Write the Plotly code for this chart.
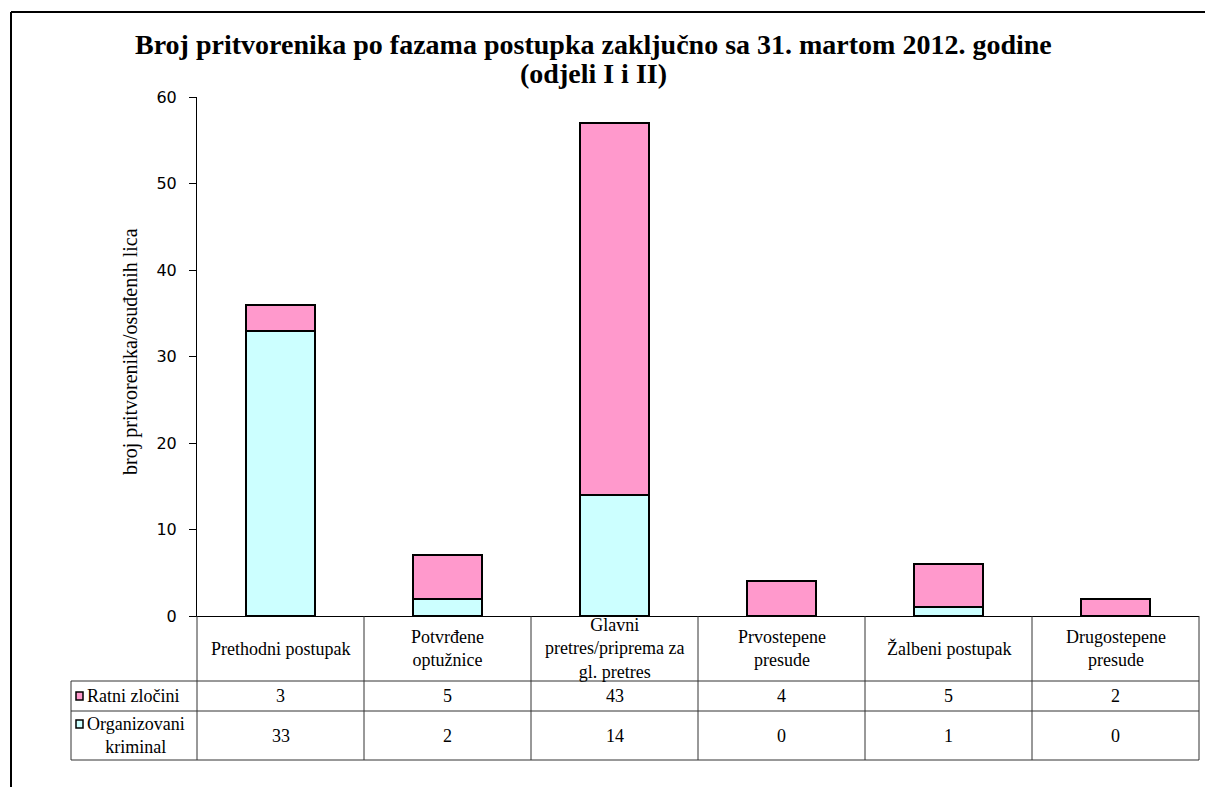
import plotly.graph_objects as go

categories = ["Prethodni postupak", "Potvrđene<br>optužnice", "Glavni<br>pretres/priprema za<br>gl. pretres",
              "Prvostepene<br>presude", "Žalbeni postupak", "Drugostepene<br>presude"]
series_names = ["Ratni zločini", "Organizovani<br>kriminal"]
ratni = [3, 5, 43, 4, 5, 2]
organizovani = [33, 2, 14, 0, 1, 0]
y_ticks = [0, 10, 20, 30, 40, 50, 60]
title_lines = ["Broj pritvorenika po fazama postupka zaključno sa 31. martom 2012. godine", "(odjeli I i II)"]
y_title = "broj pritvorenika/osuđenih lica"

PINK = "#FF99CC"
CYAN = "#CCFFFF"
W, H = 1205, 787
L, R, T, B = 197, 6, 97, 171
PW, PH = W - L - R, H - T - B

def px_x(p):
    return (p - L) / PW

def px_y(p):
    return (H - B - p) / PH

x_idx = list(range(len(categories)))
fig = go.Figure()
fig.add_trace(go.Bar(x=x_idx, y=organizovani, name="Organizovani kriminal",
                     marker=dict(color=CYAN, line=dict(color="black", width=2))))
fig.add_trace(go.Bar(x=x_idx, y=ratni, name="Ratni zločini",
                     marker=dict(color=PINK, line=dict(color="black", width=2))))

serif = "Liberation Serif"
FS = 18
shapes = []
annotations = []
n = len(categories)
line_c = "#333333"
y_top, y_r1, y_r2, y_bot = 616, 681, 711, 760
x_left = 71
for i in range(n + 1):
    shapes.append(dict(type="line", xref="paper", yref="paper", x0=i / n, x1=i / n,
                       y0=px_y(y_top), y1=px_y(y_bot), line=dict(color=line_c, width=1)))
for yy in (y_r1, y_r2, y_bot):
    shapes.append(dict(type="line", xref="paper", yref="paper", x0=px_x(x_left), x1=1,
                       y0=px_y(yy), y1=px_y(yy), line=dict(color=line_c, width=1)))
shapes.append(dict(type="line", xref="paper", yref="paper", x0=px_x(x_left), x1=px_x(x_left),
                   y0=px_y(y_r1), y1=px_y(y_bot), line=dict(color=line_c, width=1)))
# outer frame (left & top)
shapes.append(dict(type="line", xref="paper", yref="paper", x0=px_x(11), x1=px_x(11),
                   y0=px_y(12), y1=px_y(800), line=dict(color="black", width=2)))
shapes.append(dict(type="line", xref="paper", yref="paper", x0=px_x(11), x1=px_x(1210),
                   y0=px_y(12), y1=px_y(12), line=dict(color="black", width=2)))

for i, c in enumerate(categories):
    cx = (i + 0.5) / n
    for txt, yc in ((c, (y_top + y_r1) / 2), (str(ratni[i]), (y_r1 + y_r2) / 2),
                    (str(organizovani[i]), (y_r2 + y_bot) / 2)):
        annotations.append(dict(xref="paper", yref="paper", x=cx, y=px_y(yc),
                                text=txt, showarrow=False, font=dict(family=serif, size=FS, color="black"),
                                xanchor="center", yanchor="middle"))

# legend keys in table
for yc, col in (((y_r1 + y_r2) / 2, PINK), (y_r2 + 13, CYAN)):
    shapes.append(dict(type="rect", xref="paper", yref="paper", x0=px_x(76), x1=px_x(83),
                       y0=px_y(yc - 4), y1=px_y(yc + 4), fillcolor=col, line=dict(color="black", width=1.5)))
for name, tx, yc, anchor in [(series_names[0], 85, (y_r1 + y_r2) / 2, "left"),
                             (series_names[1], 85, (y_r2 + y_bot) / 2, "left")]:
    annotations.append(dict(xref="paper", yref="paper", x=px_x(tx), y=px_y(yc), text=name,
                            showarrow=False, font=dict(family=serif, size=FS, color="black"),
                            xanchor=anchor, yanchor="middle", align="center"))

for line, yc in zip(title_lines, (45, 73)):
    annotations.append(dict(xref="paper", yref="paper", x=px_x(593), y=px_y(yc), text="<b>" + line + "</b>",
                            showarrow=False, font=dict(family=serif, size=28, color="black"),
                            xanchor="center", yanchor="middle", align="center"))
annotations.append(dict(xref="paper", yref="paper", x=px_x(130), y=px_y(352), text=y_title,
                        showarrow=False, textangle=-90, font=dict(family=serif, size=20, color="black"),
                        xanchor="center", yanchor="middle"))

fig.update_layout(
    width=W, height=H, autosize=False,
    margin=dict(l=L, r=R, t=T, b=B, pad=0),
    barmode="stack", bargap=0.59,
    showlegend=False,
    plot_bgcolor="white", paper_bgcolor="white",
    shapes=shapes, annotations=annotations,
    xaxis=dict(range=[-0.5, n - 0.5], showticklabels=False, ticks="", showgrid=False, zeroline=False,
               showline=True, linecolor="black", linewidth=1),
    yaxis=dict(range=[0, 60], tickvals=y_ticks, ticks="outside", ticklen=7, tickcolor="black",
               ticklabelstandoff=9, showgrid=False, zeroline=False, showline=True, linecolor="black",
               linewidth=1, tickfont=dict(family="DejaVu Sans", size=16, color="black")),
)

fig.write_html("out.html", post_script="document.body.style.margin='0';",
               config={"displayModeBar": False})
